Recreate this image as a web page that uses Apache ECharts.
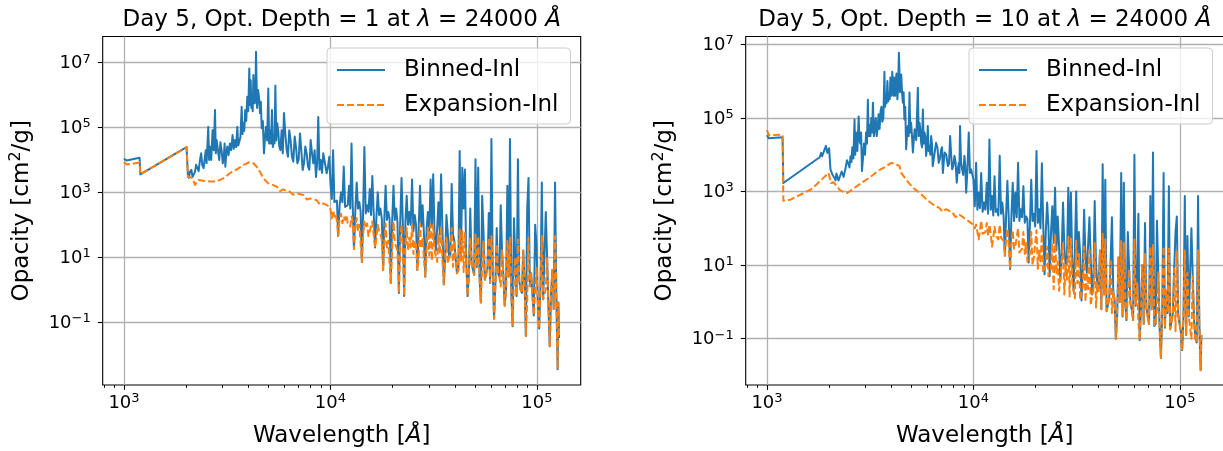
<!DOCTYPE html>
<html>
<head>
<meta charset="utf-8">
<script src="https://cdn.jsdelivr.net/npm/echarts@6/dist/echarts.min.js"></script>
<style>html,body{margin:0;padding:0;background:#fff}#chart{width:1223px;height:451px}</style>
</head>
<body>
<div id="chart"></div>
<script>
// ---------------- data (wavelength in Å, opacity in cm^2/g) ----------------
const wlLong = [10000, 10300, 10600, 10900, 11250, 11600, 11950, 12300, 12650, 13000,
  13400, 13800, 14200, 14600, 15050, 15500, 15950, 16450, 16950, 17450,
  18000, 18500, 19050, 19600, 20200, 20800, 21450, 22100, 22750, 23400,
  24100, 24850, 25600, 26350, 27150, 27950, 28800, 29650, 30550, 31450,
  32400, 33350, 34350, 35400, 36450, 37550, 38650, 39800, 41000, 42250,
  43500, 44800, 46150, 47550, 48950, 50400, 51950, 53500, 55100, 56750,
  58450, 60200, 62000, 63850, 65800, 67750, 69800, 71900, 74050, 76250,
  78550, 80900, 83350, 85850, 88400, 91050, 93800, 96600, 99500, 102500,
  105600, 108750, 112000, 115350, 118800, 122400, 126000, 128000];
const wlLongMid = [10150, 10450, 10750, 11075, 11425, 11775, 12125, 12475, 12825, 13200,
  13600, 14000, 14400, 14825, 15275, 15725, 16200, 16700, 17200, 17725,
  18250, 18775, 19325, 19900, 20500, 21125, 21775, 22425, 23075, 23750,
  24475, 25225, 25975, 26750, 27550, 28375, 29225, 30100, 31000, 31925,
  32875, 33850, 34875, 35925, 37000, 38100, 39225, 40400, 41625, 42875,
  44150, 45475, 46850, 48250, 49675, 51175, 52725, 54300, 55925, 57600,
  59325, 61100, 62925, 64825, 66775, 68775, 70850, 72975, 75150, 77400,
  79725, 82125, 84600, 87125, 89725, 92425, 95200, 98050, 101000, 104050,
  107175, 110375, 113675, 117075, 120600, 124200, 127000];

// Panel 1 (Opt. Depth = 1)
const wlBinnedShort1 = [1000, 1030, 1190, 1200, 2010, 2040, 2088, 2150, 2208, 2265, 2334, 2395, 2467, 2513, 2560, 2608,
  2685, 2760, 2810, 2893, 2970, 3048, 3097, 3163, 3258, 3357, 3450, 3540, 3615, 3715, 3785, 3865, 3955, 4045, 4110, 4170,
  4235, 4300, 4360, 4465, 4560, 4645, 4765, 4875, 5000, 5095, 5210, 5310, 5410, 5525, 5650, 5800, 5955, 6140, 6315, 6510,
  6710, 6910, 7120, 7335, 7555, 7785, 8020, 8260, 8510, 8730, 8970, 9230, 9590, 9870];
const binnedShort1 = [1.1e4, 9.6e3, 1.17e4, 3.6e3, 2.5e4, 3.4e3, 4.3e3, 3.0e3, 4.3e3, 6.2e3, 1.0e4, 6.9e3, 1.26e4, 8.0e3, 1.05e5, 2.6e4,
  8.3e4, 3.5e5, 4.1e4, 1.0e4, 2.0e4, 1.4e4, 6.2e3, 2.6e4, 3.2e4, 5.9e4, 4.1e4, 1.05e5, 3.6e4, 4.4e5, 1.35e5, 3.5e5, 8.9e5, 6.7e6, 2.9e6, 8.9e5,
  4.2e6, 5.6e5, 2.2e7, 1.45e6, 2.8e5, 9.5e4, 1.6e4, 1.05e5, 1.6e6, 8.3e4, 3.5e5, 5.3e4, 2.0e6, 1.35e5, 2.6e4, 8.3e4, 2.8e5, 2.0e4, 8.3e4, 1.25e4,
  5.3e4, 7.9e3, 6.6e4, 4.9e3, 2.6e4, 6.2e3, 4.1e4, 7.9e3, 3.0e3, 2.1e5, 1.0e4, 1.6e4, 3.9e3, 1.25e4];
const wlBinnedShortMid1 = [2064, 2119, 2179, 2236, 2300, 2365, 2431, 2490, 2537, 2584,
  2646, 2722, 2785, 2851, 2931, 3009, 3072, 3130, 3210, 3307,
  3403, 3495, 3577, 3665, 3750, 3825, 3910, 4000, 4077, 4140,
  4202, 4267, 4330, 4412, 4512, 4602, 4705, 4820, 4937, 5047,
  5152, 5260, 5360, 5467, 5587, 5725, 5877, 6047, 6227, 6412,
  6610, 6810, 7015, 7227, 7445, 7670, 7902, 8140, 8385, 8620,
  8850, 9100, 9410, 9730];
const binnedShortMid1 = [2.8e3, 5.0e3, 2.8e3, 7.1e3, 4.5e3, 1.6e4, 5.6e3, 2.0e4, 7.1e3, 1.0e4,
  1.0e4, 2.0e4, 1.6e4, 4.0e4, 3.5e4, 7.9e3, 3.2e4, 1.6e4, 1.4e4, 2.0e4,
  2.2e4, 2.5e4, 2.8e4, 5.0e4, 6.3e4, 7.9e4, 1.6e5, 3.2e5, 5.0e5, 4.0e5,
  3.2e5, 1.26e6, 7.9e5, 4.0e5, 7.9e5, 6.3e5, 1.6e5, 5.0e4, 4.0e4, 3.2e4,
  3.2e4, 2.5e4, 3.2e4, 4.0e4, 7.9e4, 2.0e4, 1.6e4, 6.3e4, 1.26e4, 4.0e4,
  8.9e3, 2.5e4, 1.0e4, 2.0e4, 7.9e3, 1.6e4, 5.0e3, 1.6e4, 2.0e4, 7.9e3,
  5.0e3, 4.0e3, 7.9e3, 6.3e3];
const binnedLong1 = [2.0e3, 2.0e4, 5.0e2, 45, 1.0e3, 6.3e3, 4.0e2, 1.6e3, 3.2e4, 18,
  2.0e3, 5.0e2, 7.1, 2.5e4, 4.0e2, 1.26e3, 3.2e3, 20, 1.0e3, 3.2e2,
  4.0, 1.6e3, 2.5e2, 1.6, 1.6e3, 3.2e2, 0.79, 2.8e3, 0.63, 7.9e2,
  2.5e2, 2.5e3, 2.0e2, 4.0, 1.6e3, 4.0e2, 2.5, 2.5e2, 2.5e3, 3.6e3,
  16, 5.0e2, 3.6e3, 1.45, 2.0e2, 10, 1.8e3, 32, 3.2, 1.9e4,
  5.8e3, 5.1e3, 0.63, 3.2e2, 6.3, 1.05e4, 5.8e3, 0.4, 63, 2.0,
  2.3e2, 4.4e4, 0.126, 79, 2.5, 16, 0.32, 1.6e3, 4.4e4, 0.074,
  10, 1.05e4, 1.0, 16, 0.037, 2.8e3, 3.2, 0.16, 25, 0.063,
  2.0e3, 0.5, 10, 0.018, 4.0, 2.0e3, 0.0035, 0.032];
const binnedLongMid1 = [630, 500, 562, 400, 500, 355, 400,
  316, 355, 282, 316, 251, 282, 224,
  251, 200, 224, 178, 200, 158, 178,
  141, 158, 126, 141, 112, 126, 100, 126, 100,
  100, 63, 100, 71, 89, 50, 79, 63, 89, 56, 79, 50, 71,
  10, 56, 12.6, 50, 8.9,
  4.0, 7.9, 320, 7.1, 3.2, 6.3, 2.8, 5.0, 2.5, 790,
  2.0, 4.5, 1.6, 4.0, 1.4, 3.2, 400, 2.8, 1.0, 2.5,
  0.79, 160, 0.63, 1.8, 0.79, 1.6, 320, 1.26, 0.63, 100,
  0.4, 1.26, 0.5, 250, 0.32, 0.79, 0.25, 0.63, 0.4];
const wlExpShort1 = [1000, 1030, 1190, 1200, 2010, 2040, 2088, 2150, 2208, 2290, 2420, 2608, 2810, 3027, 3258, 3515, 3785, 4045,
  4235, 4395, 4560, 4730, 5000, 5250, 5495, 5700, 5900, 6360, 6600, 6860, 7390, 7700, 7960, 8570, 8900, 9230, 9950];
const expShort1 = [8.7e3, 7.2e3, 8.3e3, 3.6e3, 2.5e4, 3.0e3, 3.0e3, 2.7e3, 1.7e3, 2.4e3, 2.3e3, 2.15e3, 2.15e3, 2.7e3, 3.9e3, 5.1e3, 6.9e3, 8.5e3,
  7.9e3, 6.2e3, 4.3e3, 2.7e3, 1.9e3, 1.7e3, 1.5e3, 1.1e3, 1.23e3, 1.05e3, 850, 930, 830, 600, 650, 575, 420, 455, 360];
const expLong1 = [320, 280, 220, 45, 220, 180, 200, 126, 180, 18,
  160, 100, 7.1, 126, 110, 63, 126, 20, 100, 50,
  4.0, 110, 32, 1.6, 126, 25, 0.79, 100, 0.63, 79,
  40, 100, 32, 4.0, 110, 40, 2.5, 79, 100, 100,
  16, 50, 89, 1.45, 40, 10, 79, 32, 3.2, 71,
  63, 56, 0.63, 40, 6.3, 50, 45, 0.4, 32, 2.0,
  40, 45, 0.126, 25, 2.5, 16, 0.32, 32, 40, 0.074,
  10, 35, 1.0, 16, 0.037, 40, 3.2, 0.16, 5.0, 0.063,
  45, 0.5, 10, 0.018, 4.0, 45, 0.0035, 0.032];
const expLongMid1 = [158, 178, 126, 158, 112, 141, 112, 89, 126, 89,
  63, 89, 50, 79, 45, 63, 50, 40, 63, 35,
  32, 20, 35, 18, 28, 16, 32, 14, 25, 16,
  20, 12.6, 25, 10, 20, 8.9, 18, 11.2, 7.9, 16, 7.1, 12.6, 7.9,
  10, 6.3, 12.6, 5.0, 8.9, 4.0, 7.9, 3.5, 7.1, 3.2, 6.3, 2.8,
  5.0, 2.5, 5.6, 2.0, 4.5, 1.6, 4.0, 1.4, 3.2, 1.26, 2.8, 1.0, 2.5,
  0.79, 2.0, 0.63, 1.8, 0.79, 1.6, 0.5, 1.26, 0.63, 1.0, 0.4, 1.26,
  0.5, 1.0, 0.32, 0.79, 0.25, 0.63, 0.4];

// Panel 2 (Opt. Depth = 10)
const wlBinnedShort10 = [1000, 1020, 1190, 1200, 1800, 1830, 1850, 1930, 1960, 2000, 2030, 2128, 2170, 2220, 2300, 2400, 2480, 2540, 2590, 2655,
  2700, 2780, 2830, 2885, 2950, 3020, 3080, 3140, 3200, 3260, 3330, 3400, 3470, 3550, 3620, 3705, 3760, 3830, 3900, 3960,
  4045, 4100, 4150, 4200, 4280, 4355, 4470, 4550, 4630, 4720, 4810, 4900, 4990, 5090, 5190, 5380, 5480, 5580, 5690, 5790,
  5900, 6010, 6120, 6240, 6350, 6590, 6790, 6980, 7110, 7250, 7520, 7710, 7890, 8090, 8300, 8490, 8610, 8810, 9040, 9220, 9490, 9750];
const binnedShort10 = [3.4e4, 2.8e4, 3.0e4, 1.7e3, 8.5e3, 1.12e4, 9.1e3, 1.74e4, 1.12e4, 1.5e4, 4.0e3, 2.3e3, 3.1e3, 2.0e3, 3.5e3, 4.2e3, 5.6e3, 9.1e3, 1.6e4, 9.1e4,
  4.0e4, 1.1e5, 2.0e4, 3.6e3, 2.0e4, 4.0e4, 3.1e5, 6.3e4, 1.0e5, 2.6e5, 5.0e4, 3.2e4, 1.26e5, 1.55e5, 7.9e4, 1.8e6, 3.2e5, 1.0e6, 4.0e5, 1.26e6,
  1.8e6, 4.0e5, 7.1e5, 1.0e6, 3.2e5, 5.9e6, 1.5e6, 2.6e5, 9.1e4, 1.4e4, 6.0e4, 4.9e5, 7.4e4, 1.15e4, 4.9e4, 6.6e5, 7.4e4, 2.1e4, 1.7e5, 4.0e4,
  9.3e3, 6.0e4, 1.74e4, 3.2e4, 4.9e3, 2.1e4, 6.0e3, 1.4e4, 3.2e3, 1.15e4, 4.9e3, 3.2e4, 4.0e3, 9.3e3, 1.74e3, 6.0e3, 6.0e4, 4.0e3, 9.3e3, 9.3e2, 4.0e4, 4.0e3];
const wlBinnedShortMid10 = [2079, 2149, 2195, 2260, 2350, 2440, 2510, 2565, 2622, 2677,
  2740, 2805, 2857, 2917, 2985, 3050, 3110, 3170, 3230, 3295,
  3365, 3435, 3510, 3585, 3662, 3732, 3795, 3865, 3930, 4002,
  4072, 4125, 4175, 4240, 4317, 4412, 4510, 4590, 4675, 4765,
  4855, 4945, 5040, 5140, 5285, 5430, 5530, 5635, 5740, 5845,
  5955, 6065, 6180, 6295, 6470, 6690, 6885, 7045, 7180, 7385,
  7615, 7800, 7990, 8195, 8395, 8550, 8710, 8925, 9130, 9355, 9620];
const binnedShortMid10 = [2.8e3, 2.0e3, 3.5e3, 2.2e3, 2.5e3, 7.1e3, 4.5e3, 6.3e3, 7.9e3, 1.0e4,
  1.26e4, 2.5e4, 4.0e4, 7.9e3, 1.0e4, 2.0e4, 3.2e4, 3.2e4, 4.0e4, 3.2e4,
  1.0e5, 5.0e4, 5.0e4, 2.0e5, 1.0e5, 2.0e5, 2.5e5, 2.8e5, 3.2e5, 4.0e5,
  7.9e5, 1.26e6, 4.0e5, 1.6e6, 6.3e5, 5.0e5, 5.0e5, 5.0e5, 2.0e5, 3.2e4,
  3.2e4, 4.0e4, 3.2e4, 2.5e4, 2.5e4, 3.2e4, 5.0e4, 1.6e4, 2.0e4, 3.2e4,
  1.6e4, 1.26e4, 1.0e4, 2.0e4, 1.0e4, 1.6e4, 7.9e3, 1.6e4, 6.3e3, 1.0e4,
  5.6e3, 1.0e4, 5.0e3, 6.3e3, 4.0e3, 3.2e3, 6.3e3, 2.8e3, 5.0e3, 4.0e3, 3.2e3];
const binnedLong10 = [2.1e3, 6.0e3, 9.3e2, 3.2e3, 5.0e2, 1.74e3, 2.6e4, 7.6e2, 2.6e3, 3.3e2,
  9.3e3, 5.0e2, 18, 1.95e3, 7.8, 1.74e3, 9.3e2, 6.0e3, 3.3e2, 1.4e3,
  2.1e2, 11.7, 2.1e3, 2.5e2, 1.26e4, 3.3e2, 5.9e3, 5.6, 5.0e2, 5.0,
  4.0e2, 1.26e3, 2.1e2, 4.0, 5.0e2, 10, 1.26e3, 9.3e2, 2.0, 1.0e3,
  79, 1.1, 3.2e2, 6.3, 2.0e2, 1.6, 5.5e2, 3.2, 25, 5.5e3,
  2.1e3, 0.63, 12.6, 2.0, 0.1, 16, 3.2e3, 1.74e3, 0.32, 7.9,
  0.63, 1.0e4, 3.2, 0.091, 10, 1.4e2, 0.4, 7.6e2, 1.15e4, 0.25,
  6.3, 0.03, 3.2e3, 2.0, 1.4e3, 0.2, 7.9, 2.1e2, 0.26, 0.049,
  7.6e2, 62, 0.4, 5.0, 0.1, 7.6e2, 0.014, 0.126];
const binnedLongMid10 = [400, 320, 355, 280, 320, 250, 320, 224, 280, 224,
  250, 200, 250, 178, 224, 158, 200, 158, 200, 141,
  178, 126, 158, 112, 141, 100, 126, 89, 112, 79,
  40, 25, 35, 20, 32, 16, 28, 12.6, 25, 10, 20, 7.9, 16, 6.3, 12.6, 4.0, 10, 2.5,
  0.63, 1.6, 0.56, 1.26, 200, 1.12, 0.45, 1.0, 0.4, 1.0,
  79, 0.89, 0.32, 0.79, 250, 0.79, 0.25, 0.71, 0.25, 0.63,
  0.22, 160, 0.2, 0.56, 0.2, 0.5, 0.18, 0.5, 79, 0.45,
  0.16, 0.4, 0.126, 0.4, 100, 0.32, 0.079, 0.25, 0.126];
const wlExpShort10 = [1000, 1020, 1190, 1200, 1300, 1640, 1990, 2010, 2040, 2100, 2250, 2376, 2450, 2655, 2970, 3200, 3445, 3700,
  4000, 4200, 4385, 4470, 4720, 5090, 5480, 5900, 6350, 6830, 7100, 7350, 7910, 8200, 8510, 9220, 9910];
const expShort10 = [4.7e4, 3.4e4, 3.5e4, 5.6e2, 6.0e2, 1.15e3, 3.2e3, 3.4e3, 1.7e3, 1.8e3, 1.1e3, 9.3e2, 9.1e2, 1.26e3, 1.95e3, 2.6e3, 3.6e3, 4.5e3,
  6.0e3, 5.6e3, 4.9e3, 3.2e3, 2.1e3, 1.26e3, 9.3e2, 6.2e2, 4.5e2, 3.6e2, 2.8e2, 3.3e2, 2.7e2, 2.0e2, 2.4e2, 1.74e2, 1.3e2];
const expLong10 = [140, 126, 50, 160, 79, 140, 126, 32, 110, 63,
  126, 50, 18, 100, 7.8, 89, 32, 100, 20, 79,
  40, 11.7, 79, 16, 89, 25, 71, 5.6, 32, 5.0,
  40, 71, 12.6, 4.0, 40, 10, 63, 56, 2.0, 50,
  20, 1.1, 32, 6.3, 25, 1.6, 40, 3.2, 25, 71,
  50, 0.63, 12.6, 2.0, 0.1, 16, 45, 40, 0.32, 7.9,
  0.63, 50, 3.2, 0.091, 10, 20, 0.4, 32, 35, 0.25,
  6.3, 0.03, 32, 2.0, 28, 0.2, 7.9, 25, 0.26, 0.049,
  25, 6.3, 0.4, 5.0, 0.1, 25, 0.014, 0.126];
const expLongMid10 = [100, 79, 89, 71, 79, 63, 71, 56, 63, 50,
  56, 45, 50, 32, 40, 28, 32, 22, 28, 20,
  12.6, 20, 10, 16, 7.9, 12.6, 6.3, 10, 5.0, 7.9,
  2.2, 5.6, 2.0, 4.5, 1.6, 4.0, 1.4, 3.5, 1.26, 3.2, 1.12, 2.5,
  1.0, 2.2, 0.79, 2.0, 0.71, 1.8, 0.63, 1.6, 0.56, 1.26, 0.5, 1.12, 0.45,
  1.0, 0.4, 1.0, 0.35, 0.89, 0.32, 0.79, 0.28, 0.79, 0.25, 0.71, 0.25, 0.63,
  0.22, 0.63, 0.2, 0.56, 0.2, 0.5, 0.18, 0.5, 0.16, 0.45, 0.16, 0.4,
  0.126, 0.4, 0.1, 0.32, 0.079, 0.25, 0.126];

// ticks
const xTickValues = [1e3, 1e4, 1e5];
const xMinorTickValues = [800, 900, 2000, 3000, 4000, 5000, 6000, 7000, 8000, 9000,
  20000, 30000, 40000, 50000, 60000, 70000, 80000, 90000];
const yTickValues = [1e-1, 1e1, 1e3, 1e5, 1e7];

const seriesNames = ['Binned-Inl', 'Expansion-Inl'];
const titles = [
  'Day 5, Opt. Depth = 1 at {m|λ} = 24000 {m|Å}',
  'Day 5, Opt. Depth = 10 at {m|λ} = 24000 {m|Å}'
];

// ---------------- chart ----------------
const FONT = 'DejaVu Sans';
const BLUE = '#1f77b4', ORANGE = '#ff7f0e';
const X_EXT = [2.897, 5.212];
const GRID_TOP = 36.5, GRID_W = 478, GRID_H = 348.5;

const log10 = v => Math.log10(v);
// merge several (wavelength, value) lists into one line sorted by wavelength
function toLine(parts) {
  const pts = [];
  parts.forEach(([wl, vals]) => wl.forEach((w, k) => pts.push([log10(w), log10(vals[k])])));
  pts.sort((a, b) => a[0] - b[0]);
  return pts;
}

const panels = [
  { left: 102.7, yExt: [-2.944, 7.81], legendLeft: 327,
    binned: toLine([[wlBinnedShort1, binnedShort1], [wlBinnedShortMid1, binnedShortMid1], [wlLong, binnedLong1], [wlLongMid, binnedLongMid1]]),
    exp: toLine([[wlExpShort1, expShort1], [wlLong, expLong1], [wlLongMid, expLongMid1]]) },
  { left: 745.7, yExt: [-2.258, 7.212], legendLeft: 969,
    binned: toLine([[wlBinnedShort10, binnedShort10], [wlBinnedShortMid10, binnedShortMid10], [wlLong, binnedLong10], [wlLongMid, binnedLongMid10]]),
    exp: toLine([[wlExpShort10, expShort10], [wlLong, expLong10], [wlLongMid, expLongMid10]]) }
];

function powLabel(v) {
  const e = Math.round(v);
  const s = e < 0 ? '\u2212' + (-e) : String(e);
  return '{b|10}{s|' + s + '}';
}
const tickRich = {
  b: { fontFamily: FONT, fontSize: 18, color: '#000', lineHeight: 20, verticalAlign: 'bottom' },
  s: { fontFamily: FONT, fontSize: 13, color: '#000', lineHeight: 13, verticalAlign: 'top', padding: [0, 0, 9, 0] }
};
const nameRich = {
  m: { fontFamily: FONT, fontSize: 23, fontStyle: 'italic', color: '#000', lineHeight: 28 },
  sp: { fontFamily: FONT, fontSize: 16, color: '#000', lineHeight: 16, verticalAlign: 'top' }
};
const gridLine = { show: true, lineStyle: { color: '#b0b0b0', width: 1.3 } };

const grid = [], xAxis = [], yAxis = [], series = [], legend = [], graphic = [];
panels.forEach((p, idx) => {
  grid.push({ left: p.left, top: GRID_TOP, width: GRID_W, height: GRID_H, show: true,
    borderColor: '#000', borderWidth: 1.1, backgroundColor: 'transparent', containLabel: false, outerBoundsMode: 'none' });
  xAxis.push({
    gridIndex: idx, type: 'value', min: X_EXT[0], max: X_EXT[1], position: 'bottom',
    axisLine: { show: false, onZero: false },
    axisTick: { show: true, customValues: xTickValues.map(log10), length: 4.9, lineStyle: { color: '#000', width: 1.1 } },
    axisLabel: { show: true, customValues: xTickValues.map(log10), formatter: powLabel, rich: tickRich, margin: 7 },
    splitLine: gridLine,
    name: 'Wavelength [{m|Å}]', nameLocation: 'middle', nameGap: 37,
    nameTextStyle: { fontFamily: FONT, fontSize: 23, color: '#000', lineHeight: 28, rich: nameRich }
  });
  xAxis.push({
    gridIndex: idx, type: 'value', min: X_EXT[0], max: X_EXT[1], position: 'bottom', offset: 0,
    axisLine: { show: false, onZero: false }, axisLabel: { show: false }, splitLine: { show: false },
    axisTick: { show: true, customValues: xMinorTickValues.map(log10), length: 2.8, lineStyle: { color: '#000', width: 1 } }
  });
  yAxis.push({
    gridIndex: idx, type: 'value', min: p.yExt[0], max: p.yExt[1], position: 'left',
    axisLine: { show: false, onZero: false },
    axisTick: { show: true, customValues: yTickValues.map(log10), length: 4.9, lineStyle: { color: '#000', width: 1.1 } },
    axisLabel: { show: true, customValues: yTickValues.map(log10), formatter: powLabel, rich: tickRich, margin: 12 },
    splitLine: gridLine,
    name: 'Opacity [cm{sp|2}/g]', nameLocation: 'middle', nameRotate: 90, nameGap: 67,
    nameTextStyle: { fontFamily: FONT, fontSize: 23, color: '#000', lineHeight: 28, rich: nameRich }
  });
  series.push({
    type: 'line', name: seriesNames[0], xAxisIndex: idx * 2, yAxisIndex: idx,
    data: p.binned, symbol: 'none', showSymbol: false,
    lineStyle: { color: BLUE, width: 2, join: 'round' }, itemStyle: { color: BLUE }, z: 2
  });
  series.push({
    type: 'line', name: seriesNames[1], xAxisIndex: idx * 2, yAxisIndex: idx,
    data: p.exp, symbol: 'none', showSymbol: false,
    lineStyle: { color: ORANGE, width: 2, type: [7, 3], join: 'round' }, itemStyle: { color: ORANGE }, z: 3
  });
  legend.push({
    data: seriesNames, orient: 'vertical', left: p.legendLeft, top: 48,
    backgroundColor: 'rgba(255,255,255,0.8)', borderColor: '#cccccc', borderWidth: 1, borderRadius: 4,
    padding: [9, 12, 6, 9], itemGap: 9, itemWidth: 48, itemHeight: 14,
    itemStyle: { opacity: 0 },
    textStyle: { fontFamily: FONT, fontSize: 23, color: '#000', lineHeight: 26, padding: [0, 0, 0, 14] },
    selectedMode: false
  });
  graphic.push({
    type: 'text', x: p.left + GRID_W / 2, y: 20.3, silent: true,
    style: { text: titles[idx], fontFamily: FONT, fontSize: 23, fill: '#000', align: 'center', verticalAlign: 'middle',
      rich: { m: { fontFamily: FONT, fontSize: 23, fontStyle: 'italic', fill: '#000' } } }
  });
});

const chart = echarts.init(document.getElementById('chart'), null, { renderer: 'canvas' });
chart.setOption({
  animation: false,
  backgroundColor: '#fff',
  textStyle: { fontFamily: FONT },
  grid, xAxis, yAxis, series, legend, graphic
});
</script>
</body>
</html>
